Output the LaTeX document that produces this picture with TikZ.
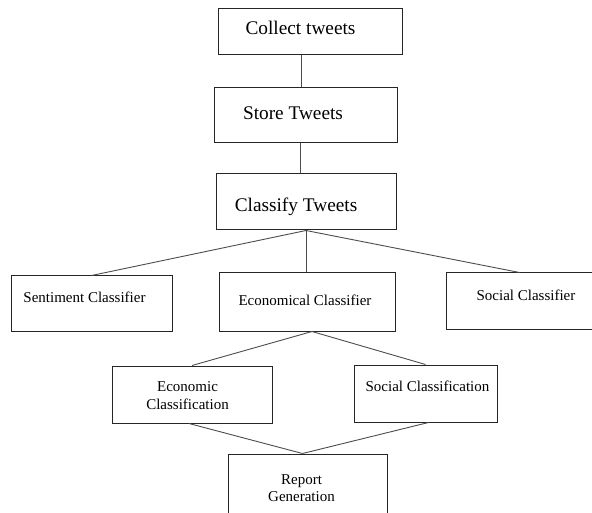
\documentclass[tikz,border=0pt]{standalone}
\usepackage{fontspec}
\setmainfont{Liberation Serif}
\usepackage{tikz}
\usetikzlibrary{calc}

\begin{document}
\begin{tikzpicture}[x=1pt,y=-1pt,
  stage/.style={draw=black!85,line width=1pt,inner sep=0pt},
  link/.style={draw=black!70,line width=0.9pt},
  bigtxt/.style={font=\fontsize{19.3}{22}\selectfont},
  smalltxt/.style={font=\fontsize{15}{17.3}\selectfont,align=center}]

\useasboundingbox (0,0) rectangle (592,513);
\clip (0,0) rectangle (592,513);

% Pipeline
\node[stage,minimum width=184pt,minimum height=46pt,
  label={[bigtxt,xshift=-9.5pt,yshift=4pt]center:Collect tweets}] (collect) at (310,32) {};
\node[stage,minimum width=183pt,minimum height=55pt,
  label={[bigtxt,xshift=-12.5pt,yshift=2.5pt]center:Store Tweets}] (store) at (305.5,115.5) {};
\node[stage,minimum width=180pt,minimum height=56pt,
  label={[bigtxt,xshift=-10pt,yshift=-5pt]center:Classify Tweets}] (classify) at (306,202) {};

% Classifiers
\node[stage,minimum width=161pt,minimum height=55pt,
  label={[smalltxt,xshift=-7pt,yshift=6pt]center:Sentiment Classifier}] (senti) at (91.5,303.5) {};
\node[stage,minimum width=176pt,minimum height=58pt,
  label={[smalltxt,xshift=-2pt,yshift=2pt]center:Economical Classifier}] (econ) at (307,302) {};
\node[stage,minimum width=147pt,minimum height=56pt,
  label={[smalltxt,xshift=6.5pt,yshift=5.5pt]center:Social Classifier}] (social) at (519.5,301) {};

% Classifications
\node[stage,minimum width=160pt,minimum height=57pt,
  label={[smalltxt,xshift=-4.5pt,yshift=-1pt]center:Economic\\Classification}] (econcls) at (192,394.5) {};
\node[stage,minimum width=143pt,minimum height=57pt,
  label={[smalltxt,xshift=2pt,yshift=7pt]center:Social Classification}] (socialcls) at (425.5,393.5) {};

% Report
\node[stage,minimum width=159pt,minimum height=62pt,
  label={[smalltxt,xshift=-6pt,yshift=-3pt]center:Report\\Generation}] (report) at (307.5,485) {};

% Connectors
\draw[link] ([xshift=-9pt]collect.south) -- ([xshift=-4.5pt]store.north);
\draw[link] ([xshift=-5.5pt]store.south) -- ([xshift=-6pt]classify.north);
\draw[link] (classify.south) -- (senti.north);
\draw[link] (classify.south) -- ([xshift=-1pt]econ.north);
\draw[link] (classify.south) -- (social.north);
\draw[link] ([xshift=5pt]econ.south) -- (econcls.north);
\draw[link] ([xshift=5pt]econ.south) -- (socialcls.north);
\draw[link] ([xshift=-3pt]econcls.south) -- ([xshift=-5pt]report.north);
\draw[link] ([xshift=3pt]socialcls.south) -- ([xshift=-5pt]report.north);

\end{tikzpicture}
\end{document}
